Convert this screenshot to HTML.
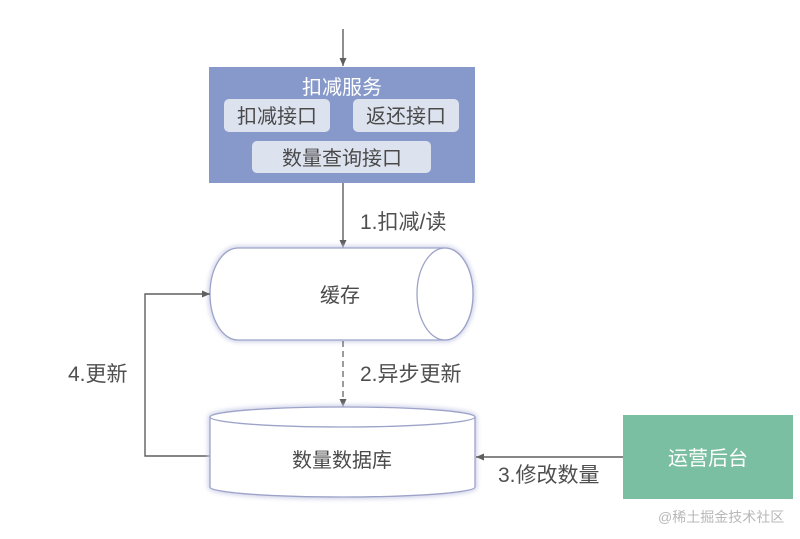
<!DOCTYPE html>
<html><head><meta charset="utf-8"><style>
html,body{margin:0;padding:0;background:#fff;}
svg{display:block;}
text{font-family:"Liberation Sans","Noto Sans CJK SC",sans-serif;}
</style></head><body>
<svg width="800" height="539" viewBox="0 0 800 539" xmlns="http://www.w3.org/2000/svg">
<defs>
<marker id="ah" markerWidth="10" markerHeight="10" refX="9" refY="5" orient="auto" markerUnits="userSpaceOnUse">
<path d="M1,1.5 L9,5 L1,8.5 Z" fill="#5f5f5f"/>
</marker>
<filter id="glow" x="-10%" y="-20%" width="120%" height="140%">
<feGaussianBlur stdDeviation="2"/>
</filter>
</defs>
<rect width="800" height="539" fill="#fff"/>

<!-- top arrow -->
<line x1="343" y1="29" x2="343" y2="66" stroke="#5f5f5f" stroke-width="1.4" marker-end="url(#ah)"/>

<!-- service box -->
<rect x="209" y="67" width="266" height="116" fill="#8699ca"/>
<text x="342" y="94" font-size="20" fill="#ffffff" text-anchor="middle">扣减服务</text>
<rect x="224" y="99" width="106" height="33" rx="5" fill="#dde2ef"/>
<text x="277" y="123" font-size="20" fill="#4a4a4a" text-anchor="middle">扣减接口</text>
<rect x="353" y="99" width="106" height="33" rx="5" fill="#dde2ef"/>
<text x="406" y="123" font-size="20" fill="#4a4a4a" text-anchor="middle">返还接口</text>
<rect x="252" y="141" width="179" height="32" rx="5" fill="#dde2ef"/>
<text x="342" y="165" font-size="20" fill="#4a4a4a" text-anchor="middle">数量查询接口</text>

<!-- arrow 1 -->
<line x1="343" y1="183" x2="343" y2="248" stroke="#5f5f5f" stroke-width="1.4" marker-end="url(#ah)"/>
<text x="360" y="229" font-size="21" fill="#4f4f4f">1.扣减/读</text>

<!-- cache cylinder -->
<path d="M238 248 L445 248 A28 46 0 0 1 445 340 L238 340 A28 46 0 0 1 238 248 Z" fill="none" stroke="#c9cde6" stroke-width="4" filter="url(#glow)"/>
<path d="M238 248 L445 248 A28 46 0 0 1 445 340 L238 340 A28 46 0 0 1 238 248 Z" fill="#fff" stroke="#9da3c8" stroke-width="1.3"/>
<ellipse cx="445" cy="294" rx="28" ry="46" fill="#fff" stroke="#9da3c8" stroke-width="1.3"/>
<text x="340" y="302" font-size="20" fill="#4a4a4a" text-anchor="middle">缓存</text>

<!-- dashed arrow 2 -->
<line x1="343" y1="341" x2="343" y2="407" stroke="#666" stroke-width="1.3" stroke-dasharray="6,4" marker-end="url(#ah)"/>
<text x="360" y="381" font-size="21" fill="#4f4f4f">2.异步更新</text>

<!-- left loop arrow 4 -->
<polyline points="210,456 145,456 145,294 210,294" fill="none" stroke="#5f5f5f" stroke-width="1.4" marker-end="url(#ah)"/>
<text x="68" y="381" font-size="21" fill="#4f4f4f">4.更新</text>

<!-- DB cylinder -->
<path d="M210 417 A132.5 10 0 0 1 475 417 L475 487 A132.5 10 0 0 1 210 487 Z" fill="none" stroke="#c9cde6" stroke-width="4" filter="url(#glow)"/>
<path d="M210 417 A132.5 10 0 0 1 475 417 L475 487 A132.5 10 0 0 1 210 487 Z" fill="#fff" stroke="#9da3c8" stroke-width="1.3"/>
<path d="M210 417 A132.5 10 0 0 0 475 417" fill="none" stroke="#9da3c8" stroke-width="1.3"/>
<text x="342" y="467" font-size="20" fill="#4a4a4a" text-anchor="middle">数量数据库</text>

<!-- arrow 3 -->
<line x1="623" y1="457" x2="476" y2="457" stroke="#5f5f5f" stroke-width="1.4" marker-end="url(#ah)"/>
<text x="498" y="482" font-size="21" fill="#4f4f4f">3.修改数量</text>

<!-- ops box -->
<rect x="623" y="415" width="170" height="84" fill="#7bbfa2"/>
<text x="708" y="465" font-size="20" fill="#ffffff" text-anchor="middle">运营后台</text>

<!-- watermark -->
<text x="658" y="522" font-size="14" fill="#b8b8b8">@稀土掘金技术社区</text>
</svg>
</body></html>
